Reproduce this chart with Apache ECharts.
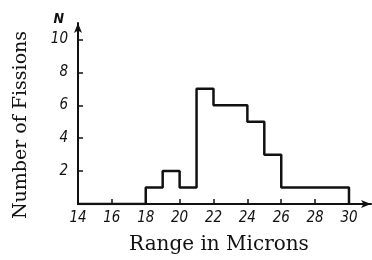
<!DOCTYPE html>
<html><head><meta charset="utf-8">
<script src="https://cdn.jsdelivr.net/npm/echarts@6/dist/echarts.min.js"></script>
<style>html,body{margin:0;padding:0;background:#fff}#c{width:372px;height:260px}</style>
</head><body><div id="c"></div>
<script>
// Left edges of histogram bins (microns) and the count in each bin; last edge closes the histogram
const binStarts = [14, 18, 19, 20, 21, 22, 24, 25, 26, 30];
const counts    = [0, 1, 2, 1, 7, 6, 5, 3, 1, 0];
const xTicks = [14, 16, 18, 20, 22, 24, 26, 28, 30];
const yTicks = [2, 4, 6, 8, 10];
const yTickMarks = [0, 2, 4, 6, 8, 10];

const chart = echarts.init(document.getElementById('c'));
const tickFont = {fontFamily: 'DejaVu Sans Condensed', fontStyle: 'italic', fontSize: 15, color: '#111'};
chart.setOption({
  animation: false,
  grid: {left: 78, right: 1, top: 23, bottom: 54},
  xAxis: {
    type: 'value', min: 14, max: 31.3, interval: 2,
    name: 'Range in Microns', nameLocation: 'middle', nameGap: 31,
    nameTextStyle: {fontFamily: 'DejaVu Serif', fontSize: 20, color: '#111', padding: [0, 11, 0, 0]},
    axisLine: {lineStyle: {color: '#111', width: 2}, symbol: ['none', 'arrow'], symbolSize: [6, 10]},
    axisTick: {inside: true, length: 5, customValues: xTicks, lineStyle: {color: '#111', width: 1.5}},
    axisLabel: Object.assign({margin: 7, customValues: xTicks}, tickFont),
    splitLine: {show: false}
  },
  yAxis: {
    type: 'value', min: 0, max: 11, interval: 2,
    name: 'N', nameLocation: 'end', nameGap: -3,
    nameTextStyle: Object.assign({}, tickFont, {fontWeight: 'bold', fontSize: 14, align: 'right', padding: [0, 14, 0, 0]}),
    axisLine: {lineStyle: {color: '#111', width: 2}, symbol: ['none', 'arrow'], symbolSize: [6, 10]},
    axisTick: {inside: true, length: 5, customValues: yTickMarks, lineStyle: {color: '#111', width: 1.5}},
    axisLabel: Object.assign({margin: 10, customValues: yTicks}, tickFont),
    splitLine: {show: false}
  },
  graphic: [{
    type: 'text', rotation: Math.PI / 2,
    x: 21, y: 125,
    style: {text: 'Number of Fissions', font: '19px "DejaVu Serif"', fill: '#111', textAlign: 'center', textVerticalAlign: 'middle'}
  }],
  series: [{
    type: 'line', step: 'end', showSymbol: false,
    data: binStarts.map((x, i) => [x, counts[i]]),
    lineStyle: {color: '#111', width: 2.5}
  }]
});
</script></body></html>
